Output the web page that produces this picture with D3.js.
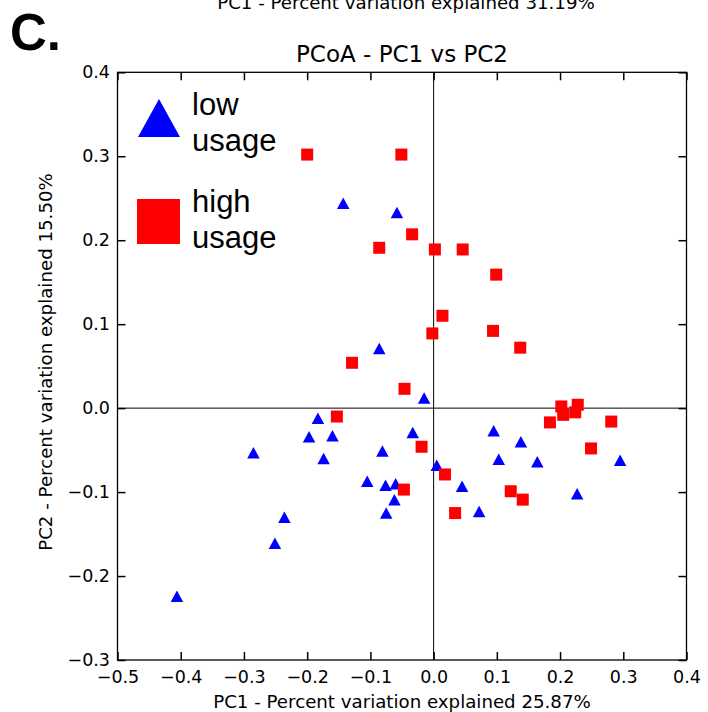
<!DOCTYPE html>
<html><head><meta charset="utf-8">
<script src="https://cdn.jsdelivr.net/npm/d3@7"></script>
<style>body{margin:0;background:#fff}svg{display:block}</style>
</head><body><svg id="c" width="708" height="712"></svg>
<script>
// Low usage (blue triangles)
const lowX = [-0.143,-0.058,-0.086,-0.015,-0.183,-0.197,-0.160,-0.285,-0.174,-0.081,-0.033,0.095,0.138,0.103,0.164,0.295,0.005,-0.105,-0.076,-0.060,-0.062,-0.075,-0.236,-0.251,-0.406,0.045,0.072,0.227];
const lowY = [0.244,0.233,0.071,0.012,-0.012,-0.034,-0.033,-0.053,-0.060,-0.051,-0.029,-0.027,-0.040,-0.061,-0.064,-0.062,-0.068,-0.087,-0.092,-0.090,-0.109,-0.125,-0.130,-0.161,-0.224,-0.093,-0.123,-0.102];
// High usage (red squares)
const highX = [-0.200,-0.051,-0.034,-0.086,0.002,0.046,0.099,0.014,-0.002,0.094,0.137,-0.046,-0.129,-0.153,0.202,0.228,0.205,0.224,0.184,0.281,0.249,-0.019,0.018,-0.047,0.122,0.141,0.034];
const highY = [0.302,0.302,0.207,0.191,0.189,0.189,0.159,0.110,0.089,0.092,0.072,0.023,0.054,-0.010,0.002,0.004,-0.008,-0.005,-0.017,-0.016,-0.048,-0.046,-0.079,-0.097,-0.099,-0.109,-0.125];
const xTicks = [-0.5,-0.4,-0.3,-0.2,-0.1,0.0,0.1,0.2,0.3,0.4];
const yTicks = [-0.3,-0.2,-0.1,0.0,0.1,0.2,0.3,0.4];
const legendLabels = [["low","usage"],["high","usage"]];

const svg = d3.select("#c");
const L = 117.5, R = 686.5, T = 72.3, B = 660;
const x = d3.scaleLinear().domain([-0.5,0.4]).range([L,R]);
const y = d3.scaleLinear().domain([-0.3,0.4]).range([B,T]);
const fmt = d3.format(".1f");
const FF = "DejaVu Sans, sans-serif";

// zero lines
svg.append("line").attr("x1",x(0)).attr("x2",x(0)).attr("y1",T).attr("y2",B).attr("stroke","#000").attr("stroke-width",1);
svg.append("line").attr("x1",L).attr("x2",R).attr("y1",y(0)).attr("y2",y(0)).attr("stroke","#000").attr("stroke-width",1);

// axes
function styleAx(g){
  g.select(".domain").remove();
  g.selectAll(".tick line").attr("stroke","#000").attr("stroke-width",1.5);
  g.selectAll(".tick text").attr("font-family",FF).attr("font-size",17.5).attr("fill","#000");
}
svg.append("g").attr("transform",`translate(0,${B})`)
  .call(d3.axisBottom(x).tickValues(xTicks).tickFormat(fmt).tickSize(-8).tickPadding(10.5)).call(styleAx);
svg.append("g").attr("transform",`translate(0,${T})`)
  .call(d3.axisTop(x).tickValues(xTicks).tickFormat("").tickSize(-8)).call(styleAx);
svg.append("g").attr("transform",`translate(${L},0)`)
  .call(d3.axisLeft(y).tickValues(yTicks).tickFormat(fmt).tickSize(-8).tickPadding(7.5)).call(styleAx);
svg.append("g").attr("transform",`translate(${R},0)`)
  .call(d3.axisRight(y).tickValues(yTicks).tickFormat("").tickSize(-8)).call(styleAx);

svg.append("rect").attr("x",L).attr("y",T).attr("width",R-L).attr("height",B-T)
  .attr("fill","none").attr("stroke","#000").attr("stroke-width",1.3);

// markers
function tri(cx,cy,w,h){
  return `M${cx},${cy-h/2}L${cx+w/2},${cy+h/2}L${cx-w/2},${cy+h/2}Z`;
}
svg.append("g").selectAll("path").data(lowX.map((v,i)=>[v,lowY[i]])).join("path")
  .attr("d",d=>tri(x(d[0]),y(d[1]),12.5,11.5)).attr("fill","#0000ff");
const S = 12;
svg.append("g").selectAll("rect").data(highX.map((v,i)=>[v,highY[i]])).join("rect")
  .attr("x",d=>x(d[0])-S/2).attr("y",d=>y(d[1])-S/2).attr("width",S).attr("height",S).attr("fill","#ff0000");

// legend
svg.append("path").attr("d",tri(159,118,42,38)).attr("fill","#0000ff");
svg.append("rect").attr("x",137).attr("y",199).attr("width",43).attr("height",45).attr("fill","#ff0000");
const LF = "Liberation Sans, Arial, sans-serif";
const lg = [[115,151],[212,248]];
legendLabels.forEach((lab,i)=>{
  lab.forEach((t,j)=>{
    svg.append("text").attr("x",192).attr("y",lg[i][j]).attr("font-family",LF).attr("font-size",31).attr("fill","#000").text(t);
  });
});

// titles
svg.append("text").attr("x",(L+R)/2).attr("y",62).attr("text-anchor","middle").attr("font-family",FF).attr("font-size",23).text("PCoA - PC1 vs PC2");
svg.append("text").attr("x",(L+R)/2).attr("y",708).attr("text-anchor","middle").attr("font-family",FF).attr("font-size",18.2).text("PC1 - Percent variation explained 25.87%");
svg.append("text").attr("x",406).attr("y",9).attr("text-anchor","middle").attr("font-family",FF).attr("font-size",18.2).text("PC1 - Percent variation explained 31.19%");
svg.append("text").attr("transform",`translate(51.5,362) rotate(-90)`).attr("text-anchor","middle").attr("font-family",FF).attr("font-size",18.2).text("PC2 - Percent variation explained 15.50%");
svg.append("text").attr("x",10).attr("y",50).attr("font-family",LF).attr("font-weight","bold").attr("font-size",51).text("C.");
</script></body></html>
